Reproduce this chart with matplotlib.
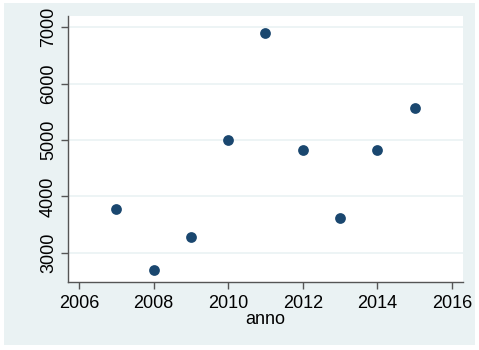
import matplotlib.pyplot as plt
from matplotlib.patches import Rectangle

plt.rcParams['font.family'] = ['Liberation Sans', 'DejaVu Sans']

anno = [2007, 2008, 2009, 2010, 2011, 2012, 2013, 2014, 2015]
valore = [3775, 2693, 3275, 4995, 6890, 4822, 3615, 4822, 5560]

bg = '#eaf2f3'
navy = '#1a476f'

fig = plt.figure(figsize=(4.79, 3.5), dpi=100, facecolor='white')
# outer light panel (Stata s2color style)
fig.add_artist(Rectangle((4/479, 5/350), 471/479, 342/350,
                         transform=fig.transFigure, facecolor=bg,
                         edgecolor='none', zorder=-10))

ax = fig.add_axes([68/479, 1 - 282/350, (463 - 68)/479, (282 - 16)/350])
ax.set_zorder(1)
ax.set_facecolor('white')

ax.scatter(anno, valore, s=60, color=navy, zorder=3, linewidths=0)

ax.set_xlim(2005.705, 2016.30)
ax.set_ylim(2480, 7200)
ax.set_xticks([2006, 2008, 2010, 2012, 2014, 2016])
ax.set_yticks([3000, 4000, 5000, 6000, 7000])
ax.yaxis.grid(True, color=bg, linewidth=1.2)
ax.set_axisbelow(True)

for s in ['top', 'right']:
    ax.spines[s].set_visible(False)
for s in ['left', 'bottom']:
    ax.spines[s].set_color('#555555')
    ax.spines[s].set_linewidth(1.0)

ax.tick_params(axis='both', length=5, width=1, color='#555555',
               labelsize=13, labelcolor='black')
ax.tick_params(axis='y', pad=3)
ax.tick_params(axis='x', pad=4)
plt.setp(ax.get_yticklabels(), rotation=90, va='center')

ax.set_xlabel('anno', fontsize=13, labelpad=0)

fig.savefig('out.png', dpi=100, facecolor='white')
